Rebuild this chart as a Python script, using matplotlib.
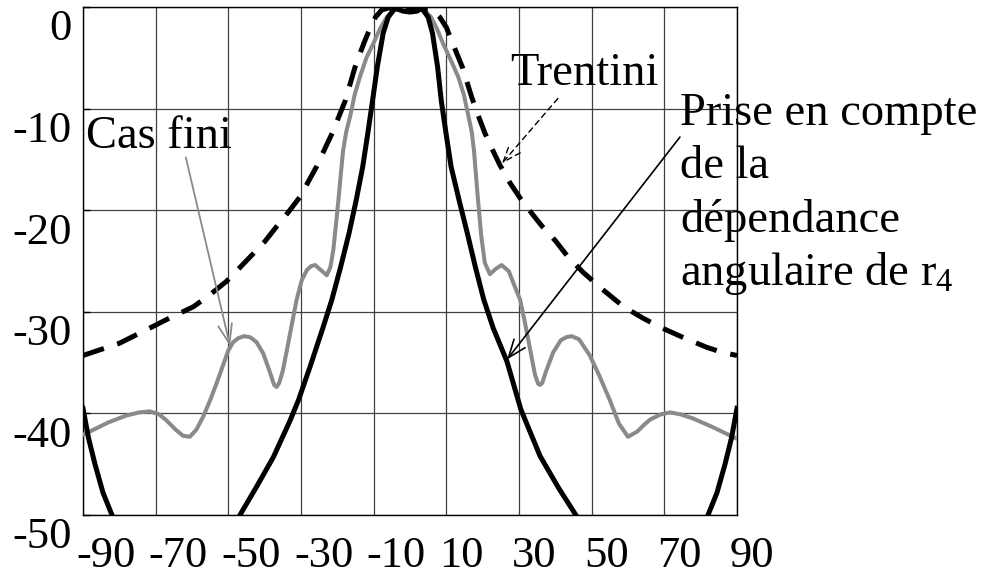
import matplotlib
matplotlib.use("Agg")
import matplotlib.pyplot as plt
from matplotlib.transforms import ScaledTranslation

# ---------------- data ----------------
x_ticks = [-90, -70, -50, -30, -10, 10, 30, 50, 70, 90]
y_ticks = [0, -10, -20, -30, -40, -50]
y_labels = ["0", "-10", "-20", "-30", "-40", "-50"]

# "Prise en compte de la dépendance angulaire de r4" (solid black)
prise_x = [-90, -88.5, -86.7, -84.5, -81.8, -79, -65, -50, -46.8, -42.2, -37.6, -33.0,
           -30.7, -27.5, -23.9, -21.5, -19.1, -16.8, -14.8, -13.0, -11.6, -10.3, -9.0,
           -7.4, -6.0, -4.1, -2, 0, 2, 3.2, 5.0, 6.2, 7.6, 8.6, 9.9, 11.3, 13.5, 15.8,
           18.0, 20.3, 22.9, 26.7, 30.5, 35.8, 41, 46.0, 50, 65, 79, 81.8, 84.5, 86.7,
           88.5, 90]
prise_y = [-39.5, -42.4, -45.0, -47.8, -50.2, -53.5, -65, -52.5, -50.0, -47.2, -44.3, -40.7,
           -38.7, -35.4, -31.5, -28.8, -25.6, -22.3, -19.0, -15.7, -12.4, -9.2, -5.9,
           -2.6, -1.0, -0.1, -0.4, -0.5, -0.4, -0.1, -1.0, -2.6, -5.9, -9.2, -12.4, -15.7,
           -19.0, -22.3, -25.6, -28.8, -31.6, -34.9, -39.6, -44.2, -47.4, -50.2, -53, -65,
           -53.5, -50.2, -47.8, -45.0, -42.4, -39.5]

# "Trentini" (dashed black)
trentini_x = [-90, -80, -71.6, -66.1, -59.6, -55, -50.5, -44.0, -40, -36.7, -33.5, -30.3,
              -28, -25.7, -23.5, -21.4, -19.6, -17.8, -16.5, -15.2, -13.8, -12.4, -11.0,
              -9.5, -7.8, -6, 0, 6, 8.2, 10, 12.0, 14.5, 17.0, 18.7, 20.6, 22.5, 24.8,
              27.5, 30.3, 33.5, 36.4, 40, 43.5, 47.6, 53, 58.8, 64, 68.8, 75, 81.7, 86, 90]
trentini_y = [-34.3, -33.1, -31.6, -30.6, -29.5, -28.3, -27.0, -24.6, -23.1, -21.6, -20.2,
              -18.7, -17.2, -15.7, -14.0, -12.4, -10.8, -9.2, -7.6, -6.0, -4.6, -3.3, -2.1,
              -1.0, -0.3, -0.1, -0.2, -0.2, -1.0, -2.0, -3.8, -6.0, -8.9, -10.6, -12.4,
              -13.9, -15.6, -17.3, -18.8, -20.3, -21.6, -23.0, -24.6, -26.1, -27.8, -29.5,
              -30.6, -31.5, -32.5, -33.5, -34.0, -34.3]

# "Cas fini" (solid grey)
cas_x = [-90, -86.5, -83.1, -78, -74.5, -71.6, -69, -67.0, -64.5, -62.5, -60.6, -58.8,
         -56.9, -55, -53.2, -51.5, -50.0, -48.7, -47.3, -45.7, -44.0, -42.2, -40.4, -38.5,
         -37.4, -36.7, -36.0, -35.0, -33.9, -32.5, -31.2, -29.8, -28.4, -27.2, -26.1,
         -24.5, -22.9, -21.9, -21.1, -20.4, -19.7, -19.0, -18.4, -17.5, -16.5, -15.2,
         -13.8, -12, -10.1, -8.2, -6.4, -4.6, 0, 4.0, 5.8, 7.5, 9.1, 11.2, 13.3, 14.8,
         16.0, 17.0, 17.6, 18.6, 19.6, 20.6, 22.0, 23.5, 25.2, 27.2, 28.6, 30.3, 31.6,
         32.9, 34.4, 35.3, 35.8, 36.4, 37.3, 39.4, 41.5, 43.0, 44.5, 46.5, 49.5, 52, 55,
         57.5, 60, 62.5, 64.5, 66.1, 69, 71.6, 74.5, 77.9, 83, 86.5, 90]
cas_y = [-42.1, -41.5, -40.9, -40.2, -39.9, -39.8, -40.1, -40.7, -41.6, -42.2, -42.3, -41.6,
         -40.3, -38.7, -37.0, -35.3, -33.8, -33.0, -32.6, -32.4, -32.5, -33.0, -34.1, -36.0,
         -37.2, -37.4, -37.0, -35.8, -33.8, -31.2, -28.8, -26.9, -25.9, -25.5, -25.4,
         -25.9, -26.4, -25.6, -23.9, -21.5, -19.0, -16.3, -14.1, -12.2, -10.8, -8.6,
         -6.9, -5.0, -3.6, -2.1, -1.0, -0.3, -0.3, -0.3, -1.0, -2.2, -3.6, -5.2, -6.9, -8.6,
         -10.6, -12.3, -14.1, -18.5, -22.5, -25.2, -26.3, -25.8, -25.4, -26.0, -27.3,
         -28.8, -31.0, -33.4, -36.2, -37.1, -37.2, -37.0, -36.0, -34.0, -32.8, -32.5,
         -32.4, -32.7, -34.3, -36.2, -38.7, -41.0, -42.3, -41.8, -41.1, -40.6, -40.1,
         -39.9, -40.1, -40.5, -41.3, -41.9, -42.5]

label_cas = "Cas fini"
label_trentini = "Trentini"
label_prise = ["Prise en compte", "de la", "dépendance", "angulaire de r$_{\\mathrm{4}}$"]

# ---------------- style ----------------
plt.rcParams["font.family"] = ["Liberation Serif", "DejaVu Serif"]
plt.rcParams["mathtext.fontset"] = "custom"
plt.rcParams["mathtext.rm"] = "Liberation Serif"
plt.rcParams["mathtext.it"] = "Liberation Serif:italic"

fig = plt.figure(figsize=(9.83, 5.74), dpi=100)
ax = fig.add_axes([83 / 983, 1 - 515 / 574, (737 - 83) / 983, (515 - 7) / 574])

grey = "#8a8a8a"
ax.plot(cas_x, cas_y, color=grey, lw=2.9, solid_joinstyle="round",
        solid_capstyle="round", zorder=3)
ax.plot(trentini_x, trentini_y, color="black", lw=3.6, dashes=(4.4, 2.8),
        dash_capstyle="butt", zorder=4)
ax.plot(prise_x, prise_y, color="black", lw=3.6, solid_joinstyle="round", zorder=5)

ax.set_xlim(-90, 90)
ax.set_ylim(-50, 0)
ax.set_xticks(x_ticks)
ax.set_xticklabels([str(v) for v in x_ticks])
ax.set_yticks(y_ticks)
ax.set_yticklabels(y_labels)
ax.grid(True, color="#404040", lw=0.9)
ax.set_axisbelow(True)
for s in ax.spines.values():
    s.set_color("black")
    s.set_linewidth(1.0)

ax.tick_params(axis="y", direction="in", length=5, width=1, pad=8, labelsize=32)
ax.tick_params(axis="x", length=0, pad=15, labelsize=32)

for lab in ax.get_yticklabels():
    lab.set_transform(lab.get_transform() + ScaledTranslation(0, -0.18, fig.dpi_scale_trans))
for lab in ax.get_xticklabels():
    lab.set_horizontalalignment("left")
    lab.set_transform(lab.get_transform() + ScaledTranslation(-0.07, 0, fig.dpi_scale_trans))

fs = 33.5
# Cas fini
ax.text(-89.2, -13.9, label_cas, fontsize=fs, ha="left", va="baseline", zorder=6)
ax.annotate("", xy=(-49.5, -33.4), xytext=(-61.7, -14.8),
            arrowprops=dict(arrowstyle="->,head_length=1.4,head_width=0.5", color=grey,
                            lw=1.3, shrinkA=0, shrinkB=0, mutation_scale=10), zorder=6)
# Trentini
ax.text(27.5, -7.7, label_trentini, fontsize=fs, ha="left", va="baseline", zorder=6)
ax.annotate("", xy=(25.3, -15.4), xytext=(40.7, -9.0),
            arrowprops=dict(arrowstyle="->,head_length=1.3,head_width=0.5", color="black",
                            lw=1.0, linestyle=(0, (4, 3)), shrinkA=0, shrinkB=0,
                            mutation_scale=10), zorder=6)
# Prise en compte ...
base_y = [-11.6, -16.8, -22.1, -27.4]
for txt, yb in zip(label_prise, base_y):
    ax.text(74.3, yb, txt, fontsize=fs, ha="left", va="baseline", clip_on=False, zorder=6)
ax.annotate("", xy=(26.7, -34.7), xytext=(74.3, -12.8),
            arrowprops=dict(arrowstyle="->,head_length=1.3,head_width=0.5", color="black",
                            lw=1.2, shrinkA=0, shrinkB=0, mutation_scale=10),
            annotation_clip=False, zorder=6)

fig.savefig("out.png", dpi=100)
